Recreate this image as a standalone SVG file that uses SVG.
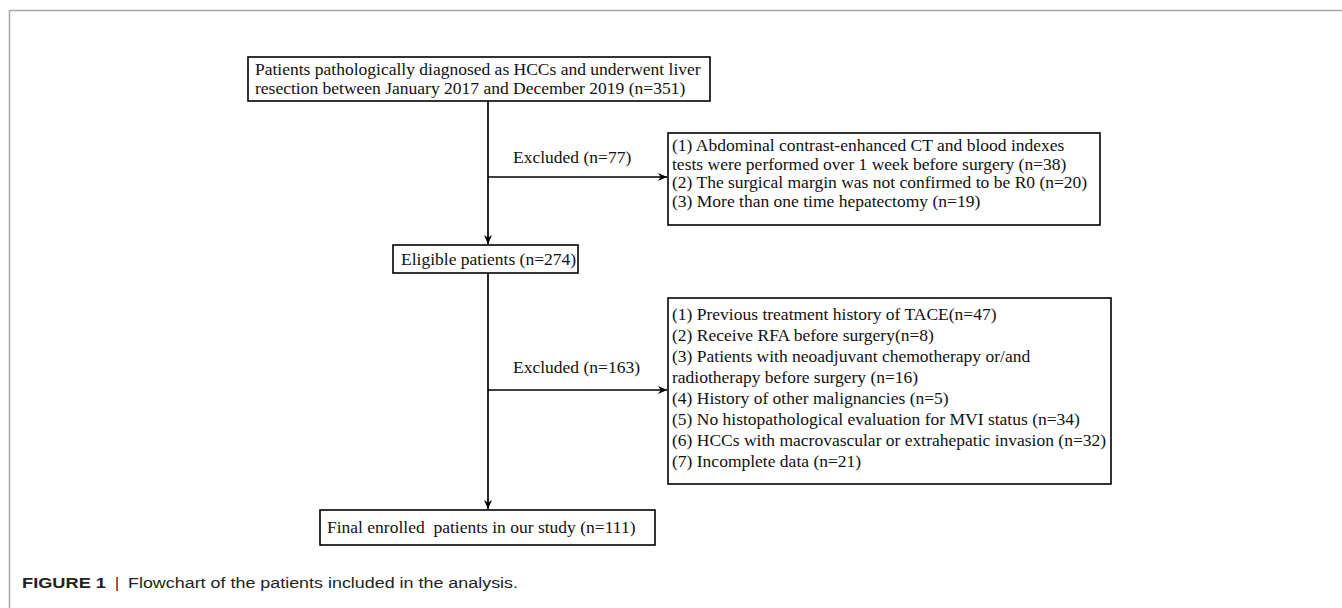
<svg xmlns="http://www.w3.org/2000/svg" width="1342" height="608" viewBox="0 0 1342 608">
<style>
.box{fill:#fff;stroke:#000;stroke-width:1.6}
.t{font-family:"Liberation Serif","Times New Roman",serif;font-size:17.5px;fill:#111}
.ln{stroke:#000;stroke-width:1.7;fill:none}
.cap{font-family:"Liberation Sans",Arial,sans-serif;font-size:15.5px;fill:#222}
</style>
<defs>
<marker id="arr" viewBox="0 0 10 10" refX="10" refY="5" markerWidth="10" markerHeight="9" markerUnits="userSpaceOnUse" orient="auto">
<path d="M0,0.5 L10,5 L0,9.5 L3,5 z" fill="#000"/>
</marker>
</defs>
<rect width="1342" height="608" fill="#fff"/>
<path d="M9.5,608 V10.5 H1342" fill="none" stroke="#a8a8a8" stroke-width="1.5"/>
<g id="connectors">
<path class="ln" d="M488,101 V244" marker-end="url(#arr)"/>
<path class="ln" d="M488,177 H667" marker-end="url(#arr)"/>
<path class="ln" d="M488,273 V509" marker-end="url(#arr)"/>
<path class="ln" d="M488,390 H667" marker-end="url(#arr)"/>
<text class="t" x="513" y="163">Excluded (n=77)</text>
<text class="t" x="513" y="373">Excluded (n=163)</text>
</g>
<g id="n1">
<rect class="box" x="248" y="57" width="462" height="44"/>
<text class="t" x="255" y="75">Patients pathologically diagnosed as HCCs and underwent liver</text>
<text class="t" x="255" y="94">resection between January 2017 and December 2019 (n=351)</text>
</g>
<g id="n2">
<rect class="box" x="668" y="133" width="432" height="92"/>
<text class="t" x="672" y="151">(1) Abdominal contrast-enhanced CT and blood indexes</text>
<text class="t" x="672" y="169.5">tests were performed over 1 week before surgery (n=38)</text>
<text class="t" x="672" y="188">(2) The surgical margin was not confirmed to be R0 (n=20)</text>
<text class="t" x="672" y="206.5">(3) More than one time hepatectomy (n=19)</text>
</g>
<g id="n3">
<rect class="box" x="393" y="245" width="185" height="28"/>
<text class="t" x="401" y="265">Eligible patients (n=274)</text>
</g>
<g id="n4">
<rect class="box" x="668" y="298" width="443" height="186"/>
<text class="t" x="672" y="320">(1) Previous treatment history of TACE(n=47)</text>
<text class="t" x="672" y="341">(2) Receive RFA before surgery(n=8)</text>
<text class="t" x="672" y="362">(3) Patients with neoadjuvant chemotherapy or/and</text>
<text class="t" x="672" y="383">radiotherapy before surgery (n=16)</text>
<text class="t" x="672" y="404">(4) History of other malignancies (n=5)</text>
<text class="t" x="672" y="425">(5) No histopathological evaluation for MVI status (n=34)</text>
<text class="t" x="672" y="446">(6) HCCs with macrovascular or extrahepatic invasion (n=32)</text>
<text class="t" x="672" y="467">(7) Incomplete data (n=21)</text>
</g>
<g id="n5">
<rect class="box" x="320" y="510" width="335" height="35"/>
<text class="t" x="327" y="533" xml:space="preserve">Final enrolled  patients in our study (n=111)</text>
</g>
<g id="caption">
<text class="cap" x="22" y="588" font-weight="bold" textLength="84" lengthAdjust="spacingAndGlyphs">FIGURE 1</text>
<text class="cap" x="115" y="588" fill="#666">|</text>
<text class="cap" x="128" y="588" textLength="390" lengthAdjust="spacingAndGlyphs">Flowchart of the patients included in the analysis.</text>
</g>
</svg>
